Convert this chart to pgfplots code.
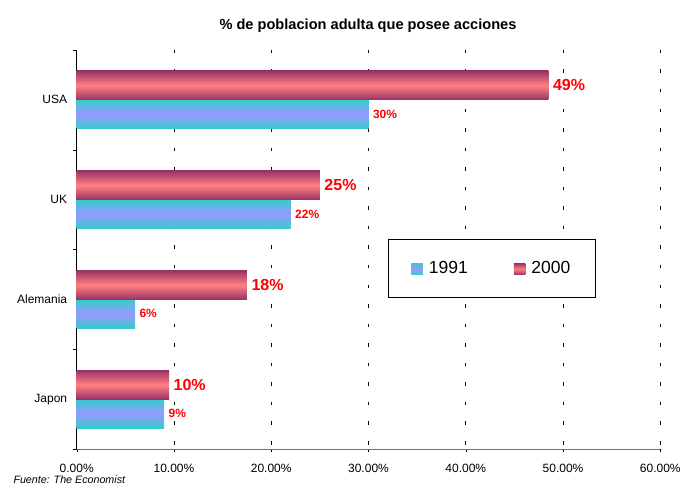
\documentclass[border=0pt]{standalone}
\usepackage{fontspec}
\setmainfont{Liberation Sans}
\usepackage{pgfplots}
\pgfplotsset{compat=1.18}
\definecolor{cyanE}{HTML}{33CCCC}
\definecolor{lav}{HTML}{9999FF}
\definecolor{plum}{HTML}{993366}
\definecolor{salmon}{HTML}{FF8080}
\pgfplotsset{
 old/.style={draw=none, top color=cyanE, bottom color=cyanE, middle color=lav, bar shift=-0.145},
 new/.style={draw=none, top color=plum, bottom color=plum, middle color=salmon, bar shift=0.145},
}
\begin{document}
\begin{tikzpicture}
\useasboundingbox (0,0) rectangle (682pt,486pt);
\begin{axis}[
 at={(76.7pt,37pt)}, anchor=south west,
 scale only axis, width=583.6pt, height=399pt,
 xbar, bar width=0.29,
 xmin=0, xmax=60, ymin=-0.5, ymax=3.5,
 axis lines=left, axis line style={-},
 x axis line style={draw=black!55, line width=0.8pt},
 y axis line style={draw=black, line width=0.8pt},
 xtick={0,10,...,60},
 xticklabel={\pgfmathprintnumber[fixed,fixed zerofill,precision=2]{\tick}\%},
 /pgf/number format/assume math mode=true,
 xticklabel style={font=\fontsize{12}{14}\selectfont, yshift=-8pt},
 tick align=outside,
 major tick length=3.5pt,
 xtick style={draw=black},
 xmajorgrids, x grid style={draw=black, dash pattern=on 3.5pt off 16.06pt, dash phase=15.1pt, line width=0.7pt},
 ytick={-0.5,0.5,1.5,2.5,3.5}, yticklabels={},
 ytick style={draw=black},
 extra y ticks={0,1,2,3}, extra y tick labels={Japon,Alemania,UK,USA},
 extra y tick style={major tick length=0pt, yticklabel style={font=\fontsize{12}{14}\selectfont, xshift=-6pt}},
 legend columns=2,
 legend image code/.code={\path[#1,draw=none] (0pt,-6.5pt) rectangle (11.5pt,5pt);},
 legend style={at={(rel axis cs:0.5334,0.5263)}, anchor=north west, draw=black, line width=0.8pt,
   inner xsep=23pt, inner ysep=20pt, font=\fontsize{17.5}{17.5}\selectfont,
   /tikz/every odd column/.append style={column sep=4pt},
   /tikz/every even column/.append style={column sep=44pt}},
]
% 1991
\addplot[old] coordinates {(30,3)};
\addlegendentry{1991}
\addplot[old, forget plot] coordinates {(22,2)};
\addplot[old, forget plot] coordinates {(6,1)};
\addplot[old, forget plot] coordinates {(9,0)};
% 2000
\addplot[new] coordinates {(48.5,3)};
\addlegendentry{2000}
\addplot[new, forget plot] coordinates {(25,2)};
\addplot[new, forget plot] coordinates {(17.5,1)};
\addplot[new, forget plot] coordinates {(9.5,0)};
% labels
\addplot[forget plot, draw=none, fill=none, bar shift=-0.145,
 nodes near coords, point meta=explicit symbolic,
 every node near coord/.append style={text=red, fill=white, font=\bfseries\fontsize{12}{12}\selectfont, anchor=west, inner sep=0.5pt, xshift=3.8pt}]
 coordinates {(9,0) [9\%] (6,1) [6\%] (22,2) [22\%] (30,3) [30\%]};
\addplot[forget plot, draw=none, fill=none, bar shift=0.145,
 nodes near coords, point meta=explicit symbolic,
 every node near coord/.append style={text=red, fill=white, font=\bfseries\fontsize{16}{16}\selectfont, anchor=west, inner sep=0.5pt, xshift=3.9pt}]
 coordinates {(9.5,0) [10\%] (17.5,1) [18\%] (25,2) [25\%] (48.5,3) [49\%]};
\end{axis}
\node[font=\bfseries\fontsize{14.6}{14.6}\selectfont] at (368pt,460pt) {\% de poblacion adulta que posee acciones};
\node[font=\itshape\fontsize{10.7}{10.7}\selectfont, anchor=base west, inner sep=0pt] at (13.3pt,2.7pt) {Fuente: The Economist};
\end{tikzpicture}
\end{document}
